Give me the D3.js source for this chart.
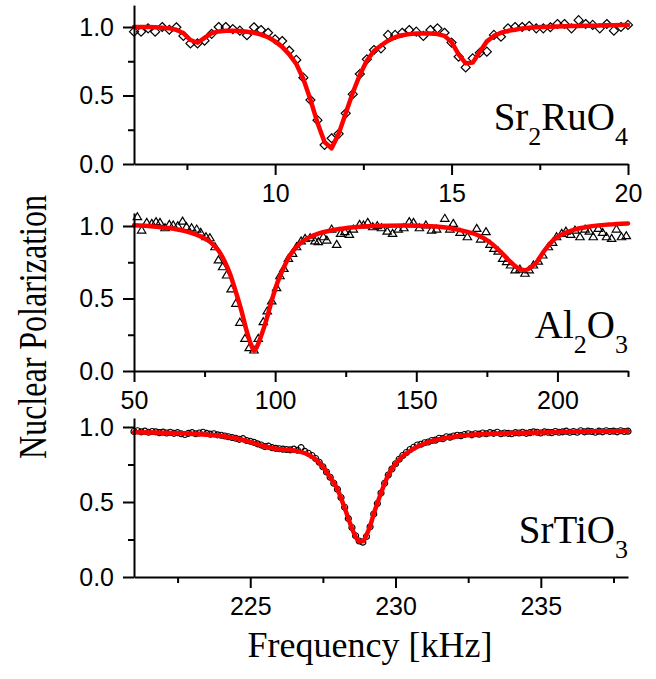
<!DOCTYPE html>
<html>
<head>
<meta charset="utf-8">
<script src="https://cdn.jsdelivr.net/npm/d3@7"></script>
<style>
  html, body { margin: 0; padding: 0; background: #fff; }
  svg { display: block; }
</style>
</head>
<body>
<script>
// ---- Sr2RuO4 : frequency grid 6.0 … 20.0 kHz in 0.2 kHz steps ----
const ruStart = 6.0, ruStep = 0.2;
const ruData = [
  0.966, 0.966, 0.990, 0.966, 1.000, 0.980, 0.998, 0.935, 0.880, 0.880,
  0.900, 0.950, 1.000, 1.000, 0.985, 0.973, 0.940, 0.998, 0.978, 0.958,
  0.910, 0.898, 0.827, 0.760, 0.630, 0.467, 0.320, 0.139, 0.188, 0.220,
  0.370, 0.510, 0.657, 0.764, 0.832, 0.844, 0.942, 0.942, 0.958, 0.978,
  0.966, 0.935, 0.978, 0.990, 0.958, 0.886, 0.783, 0.705, 0.771, 0.812,
  0.820, 0.942, 0.929, 0.990, 1.000, 1.000, 1.007, 0.990, 0.990, 0.998,
  1.022, 1.022, 0.990, 1.050, 1.022, 1.015, 0.990, 1.022, 0.973, 1.000,
  1.015
];
const ruFit = [
  1.000, 1.000, 1.000, 0.998, 0.995, 0.990, 0.980, 0.955, 0.905, 0.885,
  0.920, 0.955, 0.968, 0.972, 0.972, 0.970, 0.965, 0.958, 0.945, 0.925,
  0.895, 0.855, 0.800, 0.730, 0.620, 0.470, 0.300, 0.160, 0.115, 0.220,
  0.370, 0.520, 0.650, 0.755, 0.825, 0.865, 0.900, 0.925, 0.940, 0.948,
  0.952, 0.953, 0.952, 0.948, 0.935, 0.890, 0.800, 0.735, 0.740, 0.820,
  0.895, 0.935, 0.958, 0.972, 0.980, 0.990, 0.995, 0.998, 1.000, 1.002,
  1.004, 1.006, 1.007, 1.008, 1.009, 1.010, 1.011, 1.012, 1.013, 1.014,
  1.015
];

// ---- Al2O3 : measured points ----
const alFreq = [
  51.2, 52.7, 54.5, 56.3, 57.8, 59.2, 61.0, 62.5, 63.9, 65.5, 67.2, 68.6, 70.4, 72.2,
  73.6, 75.5, 76.9, 78.7, 79.9, 81.4, 82.8, 84.4, 86.1, 87.5, 89.3, 90.8, 92.5, 94.0,
  95.8, 97.2, 98.8, 100.5, 101.7, 103.1, 104.7, 106.2, 107.6, 109.2, 110.6, 112.4,
  114.1, 115.3, 117.1, 118.3, 120.0, 121.8, 123.2, 124.7, 126.3, 127.7, 129.9, 131.3,
  132.8, 134.6, 136.2, 137.7, 139.7, 141.6, 143.6, 145.6, 147.5, 149.0, 151.1, 153.4,
  155.4, 157.2, 160.1, 161.9, 163.1, 165.5, 168.1, 171.4, 172.8, 174.7, 176.1, 177.5,
  179.0, 180.6, 182.0, 183.4, 185.0, 186.7, 188.5, 190.0, 191.5, 193.2, 194.8, 196.8,
  198.3, 199.7, 201.5, 203.0, 204.7, 206.2, 208.0, 209.8, 211.3, 212.7, 214.5, 216.0,
  217.4, 219.2, 220.9, 222.7, 224.4
];
const alData = [
  1.064, 0.972, 1.025, 1.018, 1.030, 1.025, 0.988, 1.011, 1.007, 1.002, 1.034, 0.995, 0.988, 0.979,
  0.956, 0.926, 0.919, 0.857, 0.766, 0.719, 0.662, 0.566, 0.467, 0.336, 0.225, 0.161, 0.145, 0.225,
  0.340, 0.414, 0.483, 0.575, 0.657, 0.708, 0.777, 0.811, 0.857, 0.897, 0.915, 0.919,
  0.897, 0.892, 0.926, 0.903, 0.979, 0.873, 0.949, 0.961, 0.942, 0.979, 1.011, 1.007,
  1.025, 0.995, 1.002, 0.988, 0.965, 0.949, 0.979, 0.988, 1.030, 1.025, 0.988, 1.007,
  0.972, 0.979, 1.053, 0.979, 1.018, 0.956, 0.926, 0.984, 0.910, 0.961, 0.873, 0.846,
  0.827, 0.777, 0.754, 0.731, 0.697, 0.703, 0.674, 0.697, 0.731, 0.758, 0.800, 0.857,
  0.887, 0.926, 0.949, 0.965, 0.942, 0.972, 0.926, 0.979, 0.965, 0.926, 0.984, 0.956,
  0.926, 0.915, 0.979, 0.926, 0.933
];
const alFitFreq = [
  50, 55, 60, 65, 70, 74, 77, 80, 82, 84, 86, 88, 90, 91.5, 92.5, 93.5, 95, 97, 99,
  101, 103, 105, 108, 111, 115, 120, 126, 135, 145, 155, 162, 167, 172, 176, 180,
  183, 186, 188.5, 191, 193, 195, 197, 199, 202, 206, 211, 218, 225
];
const alFit = [
  1.005, 1.000, 0.990, 0.978, 0.955, 0.925, 0.890, 0.830, 0.760, 0.670, 0.550, 0.420,
  0.270, 0.180, 0.140, 0.165, 0.240, 0.360, 0.500, 0.620, 0.710, 0.790, 0.865, 0.910,
  0.945, 0.970, 0.988, 1.000, 1.003, 0.998, 0.985, 0.965, 0.935, 0.890, 0.820, 0.760,
  0.710, 0.695, 0.720, 0.760, 0.820, 0.870, 0.910, 0.945, 0.975, 0.995, 1.010, 1.018
];

// ---- SrTiO3 : frequency grid 221.0 … 238.0 kHz in 0.125 kHz steps ----
const tiStart = 221.0, tiStep = 0.125;
const tiData = [
  0.970, 0.975, 0.968, 0.972, 0.965, 0.970, 0.968, 0.962,
  0.966, 0.960, 0.965, 0.958, 0.962, 0.955, 0.950, 0.958,
  0.962, 0.955, 0.960, 0.965, 0.957, 0.952, 0.955, 0.948,
  0.945, 0.940, 0.935, 0.930, 0.925, 0.918, 0.922, 0.910,
  0.905, 0.898, 0.888, 0.880, 0.870, 0.872, 0.862, 0.858,
  0.855, 0.852, 0.850, 0.848, 0.852, 0.845, 0.862, 0.838,
  0.825, 0.810, 0.790, 0.765, 0.735, 0.700, 0.665, 0.625,
  0.585, 0.530, 0.465, 0.390, 0.330, 0.275, 0.240, 0.232,
  0.270, 0.335, 0.420, 0.490, 0.560, 0.625, 0.680, 0.720,
  0.755, 0.785, 0.810, 0.830, 0.850, 0.865, 0.880, 0.885,
  0.895, 0.900, 0.910, 0.912, 0.925, 0.922, 0.935, 0.932,
  0.940, 0.945, 0.942, 0.950, 0.955, 0.948, 0.955, 0.952,
  0.960, 0.955, 0.962, 0.958, 0.965, 0.955, 0.960, 0.958,
  0.955, 0.962, 0.960, 0.965, 0.958, 0.962, 0.968, 0.965,
  0.960, 0.968, 0.965, 0.962, 0.970, 0.965, 0.968, 0.972,
  0.965, 0.970, 0.965, 0.975, 0.968, 0.972, 0.970, 0.965,
  0.972, 0.968, 0.975, 0.970, 0.973, 0.968, 0.975, 0.970,
  0.972
];
const tiFitFreq = [
  221, 222, 223, 224, 224.5, 225, 225.5, 226, 226.5, 227, 227.25, 227.5, 227.75, 228,
  228.25, 228.5, 228.625, 228.75, 228.875, 229, 229.125, 229.25, 229.5, 229.75, 230,
  230.25, 230.5, 230.75, 231, 231.5, 232, 232.5, 233, 234, 235, 236, 237, 238
];
const tiFit = [
  0.965, 0.962, 0.955, 0.940, 0.925, 0.900, 0.870, 0.852, 0.843, 0.815, 0.785, 0.735,
  0.665, 0.585, 0.460, 0.325, 0.270, 0.238, 0.238, 0.280, 0.340, 0.420, 0.560, 0.680,
  0.755, 0.805, 0.840, 0.868, 0.890, 0.918, 0.935, 0.946, 0.953, 0.960, 0.964, 0.968,
  0.971, 0.973
];

// ---- tick values ----
const yMajor = [0, 0.5, 1.0];
const yMinor = [0.25, 0.75];
const ruMajor = [10, 15, 20], ruMinor = [7.5, 12.5, 17.5];
const alMajor = [50, 100, 150, 200], alMinor = [75, 125, 175, 225];
const tiMajor = [225, 230, 235], tiMinor = [222.5, 227.5, 232.5, 237.5];

const W = 656, H = 679;
const svg = d3.select("body").append("svg").attr("width", W).attr("height", H);

const sansFont = "'Liberation Sans', Arial, Helvetica, sans-serif";
const serifFont = "'Liberation Serif', 'Times New Roman', Times, serif";

const markers = {
  diamond: "M0,-4.5L4.5,0L0,4.5L-4.5,0Z",
  triangle: "M0,-4L4.2,3L-4.2,3Z",
  circle: d3.symbol(d3.symbolCircle, Math.PI * 3 * 3)()
};

const panels = [
  {
    xDomain: [6, 20], yTop: 1.16, yBottomPx: 164, yOnePx: 27,
    points: ruData.map((v, i) => [ruStart + i * ruStep, v]),
    fit: ruFit.map((v, i) => [ruStart + i * ruStep, v]),
    curve: d3.curveLinear,
    major: ruMajor, minor: ruMinor, marker: "diamond",
    label: [["Sr", false], ["2", true], ["RuO", false], ["4", true]], labelY: 130
  },
  {
    xDomain: [50, 225], yTop: 1.09, yBottomPx: 371, yOnePx: 226,
    points: alData.map((v, i) => [alFreq[i], v]),
    fit: alFit.map((v, i) => [alFitFreq[i], v]),
    curve: d3.curveMonotoneX,
    major: alMajor, minor: alMinor, marker: "triangle",
    label: [["Al", false], ["2", true], ["O", false], ["3", true]], labelY: 338
  },
  {
    xDomain: [221, 238], yTop: 1.06, yBottomPx: 577, yOnePx: 427,
    points: tiData.map((v, i) => [tiStart + i * tiStep, v]),
    fit: tiFit.map((v, i) => [tiFitFreq[i], v]),
    curve: d3.curveMonotoneX,
    major: tiMajor, minor: tiMinor, marker: "circle",
    label: [["SrTiO", false], ["3", true]], labelY: 543
  }
];

const left = 134, right = 628;

function styleAxis(g) {
  g.selectAll("path.domain").attr("stroke", "#000").attr("stroke-width", 2);
  g.selectAll(".tick line").attr("stroke", "#000").attr("stroke-width", 2);
  g.selectAll(".tick text")
    .attr("fill", "#000")
    .style("font-family", sansFont)
    .style("font-size", "25px");
}

panels.forEach(p => {
  const x = d3.scaleLinear().domain(p.xDomain).range([left, right]);
  const yTopPx = p.yBottomPx - p.yTop * (p.yBottomPx - p.yOnePx);
  const y = d3.scaleLinear().domain([0, p.yTop]).range([p.yBottomPx, yTopPx]);

  const g = svg.append("g");

  // data markers
  g.append("g").selectAll("path")
    .data(p.points)
    .join("path")
    .attr("d", markers[p.marker])
    .attr("transform", d => `translate(${x(d[0])},${y(d[1])})`)
    .attr("fill", "none")
    .attr("stroke", "#000")
    .attr("stroke-width", 1.2);

  // fitted curve
  g.append("path")
    .datum(p.fit)
    .attr("d", d3.line().x(d => x(d[0])).y(d => y(d[1])).curve(p.curve))
    .attr("fill", "none")
    .attr("stroke", "#ff0000")
    .attr("stroke-width", 4.5)
    .attr("stroke-linejoin", "round")
    .attr("stroke-linecap", "round");

  // bottom axis: major + minor ticks
  const xb = g.append("g").attr("transform", `translate(0,${p.yBottomPx})`)
    .call(d3.axisBottom(x).tickValues(p.major).tickSize(11).tickSizeOuter(0)
      .tickPadding(9).tickFormat(d3.format("d")));
  styleAxis(xb);
  const xm = g.append("g").attr("transform", `translate(0,${p.yBottomPx})`)
    .call(d3.axisBottom(x).tickValues(p.minor).tickSize(6).tickFormat(""));
  xm.select("path.domain").remove();
  styleAxis(xm);

  // left axis: major + minor ticks
  const yl = g.append("g").attr("transform", `translate(${left},0)`)
    .call(d3.axisLeft(y).tickValues(yMajor).tickSize(11).tickSizeOuter(0)
      .tickPadding(9).tickFormat(d3.format(".1f")));
  styleAxis(yl);
  const ym = g.append("g").attr("transform", `translate(${left},0)`)
    .call(d3.axisLeft(y).tickValues(yMinor).tickSize(6).tickFormat(""));
  ym.select("path.domain").remove();
  styleAxis(ym);

  // compound name with subscripts
  const t = g.append("text")
    .attr("x", right)
    .attr("y", p.labelY)
    .attr("text-anchor", "end")
    .style("font-family", serifFont)
    .style("font-size", "39px")
    .attr("fill", "#000");
  let lowered = false;
  p.label.forEach(([s, sub]) => {
    const ts = t.append("tspan").text(s);
    if (sub && !lowered) { ts.attr("dy", 15).style("font-size", "26px"); lowered = true; }
    else if (!sub && lowered) { ts.attr("dy", -15); lowered = false; }
    else if (sub) { ts.style("font-size", "26px"); }
  });
});

// axis titles
svg.append("text")
  .attr("transform", "translate(46,327) rotate(-90) scale(1,1.25)")
  .attr("text-anchor", "middle")
  .style("font-family", serifFont)
  .style("font-size", "32px")
  .attr("fill", "#000")
  .text("Nuclear Polarization");

svg.append("text")
  .attr("x", 370)
  .attr("y", 657)
  .attr("text-anchor", "middle")
  .style("font-family", serifFont)
  .style("font-size", "36px")
  .attr("fill", "#000")
  .text("Frequency [kHz]");
</script>
</body>
</html>
